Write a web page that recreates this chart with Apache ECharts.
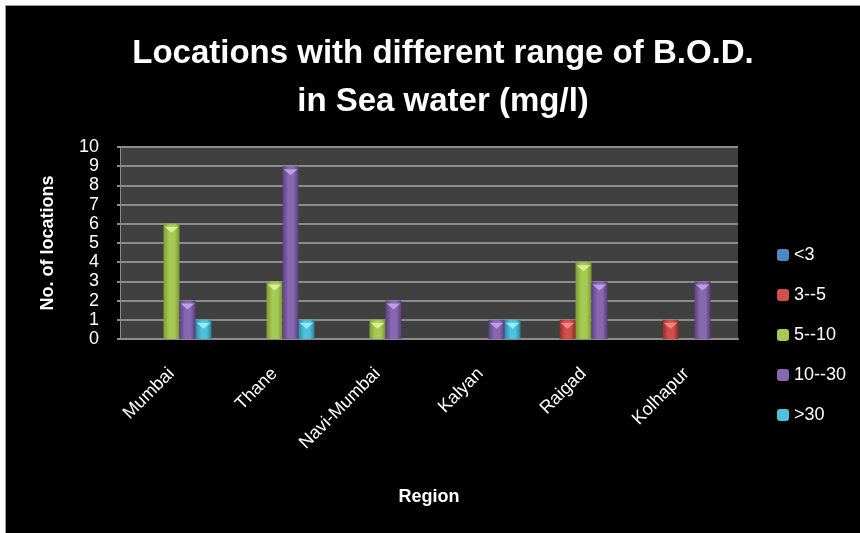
<!DOCTYPE html>
<html>
<head>
<meta charset="utf-8">
<style>
  html, body { margin: 0; padding: 0; background: #ffffff; }
  #frame { position: absolute; left: 5px; top: 5px; width: 855px; height: 528px; background: #000; border-left: 1px solid #9a9a9a; border-top: 1px solid #9a9a9a; box-sizing: border-box; }
  #chart { position: absolute; left: 0; top: 0; width: 860px; height: 533px; }
</style>
<script src="https://cdn.jsdelivr.net/npm/echarts@6/dist/echarts.min.js"></script>
</head>
<body>
<div id="frame"></div>
<div id="chart"></div>
<script>
// Regions along the x axis
const regions = ['Mumbai', 'Thane', 'Navi-Mumbai', 'Kalyan', 'Raigad', 'Kolhapur'];

// B.O.D. ranges (mg/l), one series each
const rangeNames = ['<3', '3--5', '5--10', '10--30', '>30'];

// Number of locations per region for each range
const lessThan3 = [0, 0, 0, 0, 0, 0];
const from3to5 = [0, 0, 0, 0, 1, 1];
const from5to10 = [6, 3, 1, 0, 4, 0];
const from10to30 = [2, 9, 2, 1, 3, 3];
const over30 = [1, 1, 0, 1, 0, 0];

// Y axis ticks
const yTicks = [0, 1, 2, 3, 4, 5, 6, 7, 8, 9, 10];

const seriesValues = [lessThan3, from3to5, from5to10, from10to30, over30];
const palette = [
  ['#2f5f95', '#4f86c6', '#2c5a8c'],
  ['#8f2c29', '#d0504c', '#8a2a27'],
  ['#7f9c35', '#a6c954', '#78952f'],
  ['#5a4180', '#8767b0', '#553d79'],
  ['#2a8aa3', '#4cc0dc', '#27829a']
];
const capColors = ['#8fb4e6', '#ef8e8b', '#dff59a', '#c2a5ea', '#a3ecfb'];

const FONT = '"Liberation Sans", Arial, sans-serif';

function barGradient(c) {
  return new echarts.graphic.LinearGradient(0, 0, 1, 0, [
    { offset: 0, color: c[0] },
    { offset: 0.35, color: c[1] },
    { offset: 0.7, color: c[1] },
    { offset: 1, color: c[2] }
  ]);
}

const barSeries = rangeNames.map((name, i) => ({
  name: name,
  type: 'bar',
  data: seriesValues[i],
  barWidth: 16,
  barGap: '0%',
  itemStyle: { color: barGradient(palette[i]) },
  emphasis: { disabled: true }
}));

// Light bevel on the top of every non-empty bar
const capSeries = rangeNames.map((name, i) => ({
  name: name + ' cap',
  type: 'pictorialBar',
  data: seriesValues[i].map(v => (v > 0 ? v : '-')),
  symbol: 'path://M0,0 L16,0 L8,6 Z',
  symbolSize: [14, 6],
  symbolPosition: 'end',
  symbolOffset: [0, '50%'],
  barWidth: 16,
  barGap: '0%',
  itemStyle: { color: capColors[i], opacity: 0.9 },
  z: 3,
  silent: true
}));

const chart = echarts.init(document.getElementById('chart'), null, { renderer: 'canvas' });
chart.setOption({
  backgroundColor: 'transparent',
  animation: false,
  title: {
    text: 'Locations with different range of B.O.D.\nin Sea water (mg/l)',
    left: 438,
    top: 25,
    textAlign: 'center',
    textStyle: {
      color: '#ffffff',
      fontFamily: FONT,
      fontWeight: 'bold',
      fontSize: 33,
      lineHeight: 48
    }
  },
  legend: {
    orient: 'vertical',
    left: 772,
    top: 241,
    itemWidth: 12,
    itemHeight: 12,
    itemGap: 22,
    data: rangeNames.map((n, i) => ({ name: n, itemStyle: { color: palette[i][1] } })),
    textStyle: { color: '#ffffff', fontFamily: FONT, fontSize: 18 }
  },
  grid: { left: 120, right: 122, top: 147, bottom: 194, show: true, backgroundColor: '#404040', borderWidth: 0 },
  xAxis: {
    type: 'category',
    data: regions,
    name: 'Region',
    nameLocation: 'middle',
    nameGap: 149,
    nameTextStyle: { color: '#ffffff', fontFamily: FONT, fontWeight: 'bold', fontSize: 18 },
    axisLine: { lineStyle: { color: '#8c8c8c', width: 2 } },
    axisTick: { show: false },
    axisLabel: { color: '#ffffff', fontFamily: FONT, fontSize: 18, rotate: 45, margin: 32, interval: 0 }
  },
  yAxis: {
    type: 'value',
    min: yTicks[0],
    max: yTicks[yTicks.length - 1],
    interval: 1,
    name: 'No. of locations',
    nameLocation: 'middle',
    nameGap: 63,
    nameTextStyle: { color: '#ffffff', fontFamily: FONT, fontWeight: 'bold', fontSize: 18 },
    axisLine: { show: true, lineStyle: { color: '#8c8c8c', width: 1 } },
    axisTick: { show: true, inside: false, length: 3, lineStyle: { color: '#8c8c8c', width: 2 } },
    axisLabel: {
      color: '#ffffff', fontFamily: FONT, fontSize: 18, margin: 21,
      showMinLabel: true, showMaxLabel: true
    },
    splitLine: { lineStyle: { color: '#8c8c8c', width: 2 } }
  },
  series: barSeries.concat(capSeries)
});
</script>
</body>
</html>
